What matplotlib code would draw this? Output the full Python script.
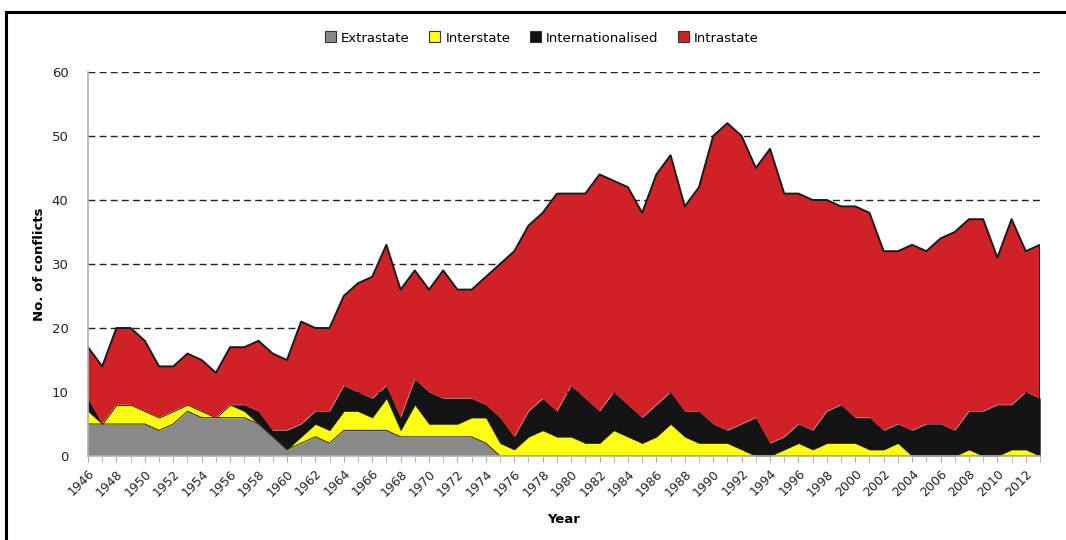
import numpy as np
import matplotlib
matplotlib.use('Agg')
import matplotlib.pyplot as plt
from matplotlib.patches import Patch, Rectangle

# armed conflicts by type, 1946-2013
years = list(range(1946, 2014))

extrastate = [5, 5, 5, 5, 5, 4, 5, 7, 6, 6, 6, 6, 5, 3, 1, 2, 3, 2, 4, 4,
              4, 4, 3, 3, 3, 3, 3, 3, 2, 0, 0, 0, 0, 0, 0, 0, 0, 0, 0, 0,
              0, 0, 0, 0, 0, 0, 0, 0, 0, 0, 0, 0, 0, 0, 0, 0, 0, 0, 0, 0,
              0, 0, 0, 0, 0, 0, 0, 0]
interstate = [2, 0, 3, 3, 2, 2, 2, 1, 1, 0, 2, 1, 0, 0, 0, 1, 2, 2, 3, 3,
              2, 5, 1, 5, 2, 2, 2, 3, 4, 2, 1, 3, 4, 3, 3, 2, 2, 4, 3, 2,
              3, 5, 3, 2, 2, 2, 1, 0, 0, 1, 2, 1, 2, 2, 2, 1, 1, 2, 0, 0,
              0, 0, 1, 0, 0, 1, 1, 0]
internationalised = [2, 0, 0, 0, 0, 0, 0, 0, 0, 0, 0, 1, 2, 1, 3, 2, 2, 3, 4, 3,
                     3, 2, 2, 4, 5, 4, 4, 3, 2, 4, 2, 4, 5, 4, 8, 7, 5, 6, 5, 4,
                     5, 5, 4, 5, 3, 2, 4, 6, 2, 2, 3, 3, 5, 6, 4, 5, 3, 3, 4, 5,
                     5, 4, 6, 7, 8, 7, 9, 9]
intrastate = [8, 9, 12, 12, 11, 8, 7, 8, 8, 7, 9, 9, 11, 12, 11, 16, 13, 13, 14, 17,
              19, 22, 20, 17, 16, 20, 17, 17, 20, 24, 29, 29, 29, 34, 30, 32, 37, 33, 34, 32,
              36, 37, 32, 35, 45, 48, 45, 39, 46, 38, 36, 36, 33, 31, 33, 32, 28, 27, 29, 27,
              29, 31, 30, 30, 23, 29, 22, 24]

series = ['Extrastate', 'Interstate', 'Internationalised', 'Intrastate']
colors = ['#898989', '#FFFF14', '#141414', '#D02226']

fig = plt.figure(figsize=(10.66, 5.4), dpi=100)
ax = fig.add_axes([88 / 1066, 84 / 540, 952 / 1066, 384 / 540])

x = np.array(years)
base = np.zeros(len(years))
for vals, col, name in zip([extrastate, interstate, internationalised, intrastate], colors, series):
    top = base + np.array(vals)
    if name == 'Intrastate':
        ax.fill_between(x, base, top, facecolor=col, edgecolor='none', zorder=2)
        ax.plot(x, top, color='#1a1a1a', lw=1.4, zorder=3)
        ax.plot([x[-1], x[-1]], [base[-1], top[-1]], color='#1a1a1a', lw=1.4, zorder=3)
    elif name == 'Extrastate':
        ax.fill_between(x, base, top, facecolor=col, edgecolor='none', zorder=2)
        ax.plot(x, top, color='#333333', lw=0.8, zorder=3)
    else:
        ax.fill_between(x, base, top, facecolor=col, edgecolor=col, lw=0.3, zorder=2)
    base = top

ax.set_xlim(1946, 2013)
ax.set_ylim(0, 60)
ax.set_yticks(range(0, 61, 10))
ax.set_xticks(years, minor=True)
ax.set_xticks(years[::2])
ax.set_xticklabels([str(y) for y in years[::2]], rotation=45, ha='right', va='top',
                   rotation_mode='anchor', fontsize=9, color='#222222')
ax.tick_params(axis='x', which='both', length=4, color='#aaaaaa', pad=4)
ax.tick_params(axis='y', length=0, labelsize=9.5, labelcolor='#222222', pad=14)

ax.yaxis.grid(True, linestyle=(0, (5, 3)), color='#222222', lw=1)
ax.set_axisbelow(True)
for s in ['top', 'right']:
    ax.spines[s].set_visible(False)
for s in ['left', 'bottom']:
    ax.spines[s].set_color('#b0b0b0')
    ax.spines[s].set_linewidth(1.2)
    ax.spines[s].set_zorder(4)

ax.set_ylabel('No. of conflicts', fontsize=9.5, fontweight='bold', labelpad=4)
ax.set_xlabel('Year', fontsize=9.5, fontweight='bold', labelpad=10)

handles = [Patch(facecolor=c, edgecolor='#333333', lw=0.8) for c in colors]
fig.legend(handles, series, loc='center', bbox_to_anchor=(542 / 1066, 1 - 38 / 540),
           ncol=4, frameon=False, fontsize=9.5, handlelength=0.8, handleheight=0.9,
           handletextpad=0.4, columnspacing=1.5)

# outer frame of the original figure
fig.add_artist(Rectangle((6 / 1066, -0.2), 1.2, 1.2 - 12 / 540, transform=fig.transFigure,
                         fill=False, lw=2.2, edgecolor='black', clip_on=False))

fig.savefig('out.png', dpi=100)
